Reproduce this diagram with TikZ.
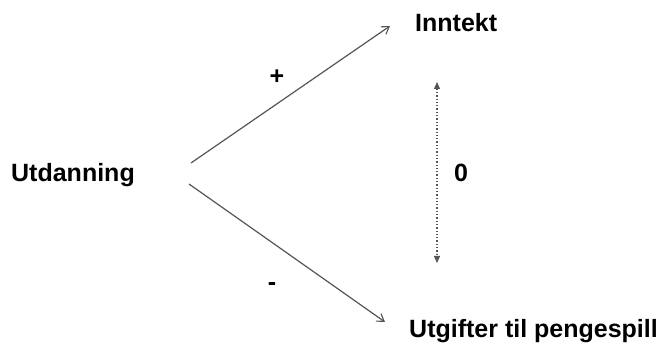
\documentclass[tikz,border=0pt]{standalone}
\usepackage{fontspec}
\setmainfont{Liberation Sans}
\usetikzlibrary{arrows.meta}
\definecolor{linegray}{HTML}{555555}
\begin{document}
\begin{tikzpicture}[x=1pt,y=-1pt,
  lbl/.style={inner sep=0pt,font=\fontsize{25}{29}\selectfont\bfseries},
  effect/.style={draw=linegray,line width=1.2pt,-{Straight Barb[length=7pt,width=9pt,line width=1.1pt]}},
  corr/.style={draw=linegray,line width=1.3pt,dotted,
    {Triangle[length=7pt,width=6pt]}-{Triangle[length=7pt,width=6pt]}}]
\useasboundingbox (0,0) rectangle (665,347);

% variables
\node[lbl,anchor=base west] (u) at (11,182) {Utdanning};
\node[lbl,anchor=base west] (i) at (415,32) {Inntekt};
\node[lbl,anchor=base west] (g) at (409,338) {Utgifter til pengespill};

% arrow end points
\coordinate (uup) at (191,163);
\coordinate (udn) at (189,184);
\coordinate (iin) at (390,26);
\coordinate (gin) at (385,322);
\coordinate (ctop) at (437,82);
\coordinate (cbot) at (437,263);

% effects
\draw[effect] (uup) -- (iin);
\draw[effect] (udn) -- (gin);
\draw[corr] (ctop) -- (cbot);

% signs
\node[lbl,anchor=base] (plus) at (277,85) {+};
\node[lbl,anchor=base] (minus) at (272,291) {-};
\node[lbl,anchor=base] (zero) at (461,182) {0};
\end{tikzpicture}
\end{document}
